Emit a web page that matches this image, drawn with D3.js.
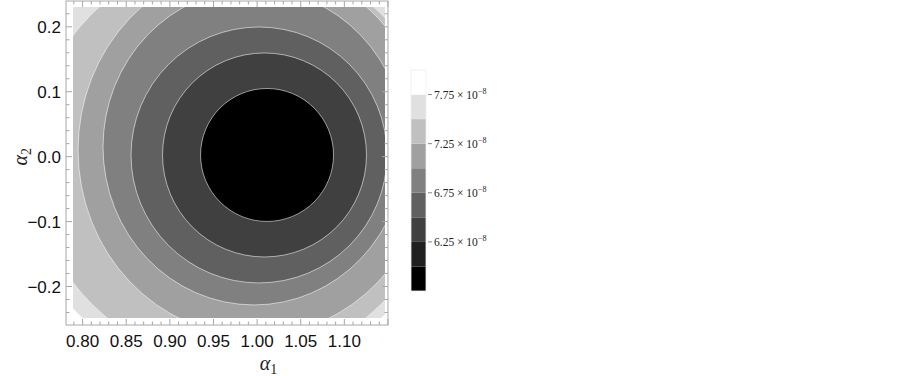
<!DOCTYPE html>
<html><head><meta charset="utf-8">
<script src="https://cdn.jsdelivr.net/npm/d3@7"></script>
<style>body{margin:0;background:#fff}</style>
</head><body>
<script>
// ---- data ----
const levels    = [6.25, 6.5, 6.75, 7.0, 7.25, 7.5, 7.75];        // ×10^-8 contour levels
const centerA1  = [1.0114, 1.0085, 1.0022, 0.9965, 0.9965, 0.9764, 0.9712]; // α1 centre of each contour
const centerA2  = [0.0026, 0.0026, 0.0026, 0.0149, 0.0103, -0.0036, -0.0021]; // α2 centre
const radiusA1  = [0.0762, 0.1169, 0.1467, 0.1731, 0.2017, 0.2350, 0.2510]; // half-width in α1
const radiusA2  = [0.1024, 0.1571, 0.1971, 0.2433, 0.2865, 0.3157, 0.3373]; // half-height in α2
const bandColors = ["#000000","#404040","#606060","#808080","#a0a0a0","#c0c0c0","#e0e0e0","#ffffff"];
const legendLevels = [5.75, 6.0, 6.25, 6.5, 6.75, 7.0, 7.25, 7.5, 7.75, 8.0];
const legendColors = ["#000000","#202020","#404040","#606060","#808080","#a0a0a0","#c0c0c0","#e0e0e0","#ffffff"];
const legendLabels = [7.75, 7.25, 6.75, 6.25];
const xTicks = [0.80, 0.85, 0.90, 0.95, 1.00, 1.05, 1.10];
const yTicks = [-0.2, -0.1, 0.0, 0.1, 0.2];
const xDomain = [0.789, 1.1466];
const yDomain = [-0.2485, 0.2305];
const xFrame = [0.781, 1.150];
const yFrame = [-0.2593, 0.2397];

// ---- drawing ----
const W = 903, H = 376;
const svg = d3.select("body").append("svg").attr("width", W).attr("height", H)
  .style("font-family", "'Liberation Sans', Arial, sans-serif");
svg.append("rect").attr("width", W).attr("height", H).attr("fill", "#fff");

const x = d3.scaleLinear().domain(xDomain).range([73, 385]);
const y = d3.scaleLinear().domain(yDomain).range([318, 7]);

svg.append("clipPath").attr("id", "clip").append("rect")
  .attr("x", x(xDomain[0])).attr("y", y(yDomain[1]))
  .attr("width", x(xDomain[1]) - x(xDomain[0])).attr("height", y(yDomain[0]) - y(yDomain[1]));

const g = svg.append("g").attr("clip-path", "url(#clip)");
g.append("rect").attr("x", x(xDomain[0])).attr("y", y(yDomain[1]))
  .attr("width", x(xDomain[1]) - x(xDomain[0])).attr("height", y(yDomain[0]) - y(yDomain[1]))
  .attr("fill", bandColors[7]);

for (let k = levels.length - 1; k >= 0; k--) {
  const cx = x(centerA1[k]), cy = y(centerA2[k]);
  const rx = x(centerA1[k] + radiusA1[k]) - cx, ry = cy - y(centerA2[k] + radiusA2[k]);
  g.append("ellipse").attr("cx", cx).attr("cy", cy).attr("rx", rx).attr("ry", ry)
    .attr("fill", bandColors[k]).attr("stroke", "rgba(255,255,255,0.55)").attr("stroke-width", 1);
}

// frame
const fx0 = x(xFrame[0]), fx1 = x(xFrame[1]), fy0 = y(yFrame[1]), fy1 = y(yFrame[0]);
svg.append("rect").attr("x", fx0).attr("y", fy0).attr("width", fx1 - fx0).attr("height", fy1 - fy0)
  .attr("fill", "none").attr("stroke", "#a8a8a8").attr("stroke-width", 1);

const tickColor = "#a8a8a8";
const xMinor = d3.range(79, 116).map(v => v / 100);
const yMinor = d3.range(-12, 12).map(v => v / 50);
function isMajor(v, step) { return Math.abs(v / step - Math.round(v / step)) < 1e-6; }
xMinor.forEach(v => {
  const L = isMajor(v, 0.05) ? 6 : 3.5;
  svg.append("line").attr("x1", x(v)).attr("x2", x(v)).attr("y1", fy1).attr("y2", fy1 - L).attr("stroke", tickColor);
  svg.append("line").attr("x1", x(v)).attr("x2", x(v)).attr("y1", fy0).attr("y2", fy0 + L).attr("stroke", tickColor);
});
yMinor.forEach(v => {
  if (y(v) < fy0 || y(v) > fy1) return;
  const L = isMajor(v, 0.1) ? 6 : 3.5;
  svg.append("line").attr("y1", y(v)).attr("y2", y(v)).attr("x1", fx0).attr("x2", fx0 + L).attr("stroke", tickColor);
  svg.append("line").attr("y1", y(v)).attr("y2", y(v)).attr("x1", fx1).attr("x2", fx1 - L).attr("stroke", tickColor);
});

// tick labels
svg.selectAll(".xl").data(xTicks).enter().append("text")
  .attr("x", d => x(d)).attr("y", 347).attr("text-anchor", "middle")
  .attr("font-size", 17).attr("fill", "#111").text(d => d.toFixed(2));
svg.selectAll(".yl").data(yTicks).enter().append("text")
  .attr("x", 61).attr("y", d => y(d) + 6).attr("text-anchor", "end")
  .attr("font-size", 17).attr("fill", "#111").text(d => (d < 0 ? "\u2212" : "") + Math.abs(d).toFixed(1));

// axis titles
const xt = svg.append("text").attr("x", x(1.013)).attr("y", 370).attr("text-anchor", "middle")
  .attr("font-family", "'Liberation Serif', 'Times New Roman', serif").attr("font-size", 20).attr("fill", "#222");
xt.append("tspan").attr("font-style", "italic").text("\u03b1");
xt.append("tspan").attr("font-size", 14).attr("dy", 4).text("1");
const yt = svg.append("text").attr("transform", `translate(27,${y(0)}) rotate(-90)`).attr("text-anchor", "middle")
  .attr("font-family", "'Liberation Serif', 'Times New Roman', serif").attr("font-size", 20).attr("fill", "#222");
yt.append("tspan").attr("font-style", "italic").text("\u03b1");
yt.append("tspan").attr("font-size", 14).attr("dy", 4).text("2");

// legend
const ly = d3.scaleLinear().domain([legendLevels[0], legendLevels[legendLevels.length - 1]]).range([291, 70]);
const lg = svg.append("g");
legendColors.forEach((c, i) => {
  lg.append("rect").attr("x", 411).attr("width", 15)
    .attr("y", ly(legendLevels[i + 1])).attr("height", ly(legendLevels[i]) - ly(legendLevels[i + 1]))
    .attr("fill", c);
});
lg.append("rect").attr("x", 411).attr("width", 15).attr("y", ly(8.0)).attr("height", ly(5.75) - ly(8.0))
  .attr("fill", "none").attr("stroke", "#eee").attr("stroke-width", 0.8);
legendLabels.forEach(v => {
  lg.append("line").attr("x1", 428).attr("x2", 432).attr("y1", ly(v)).attr("y2", ly(v)).attr("stroke", "#888");
  const t = lg.append("text").attr("x", 434).attr("y", ly(v) + 4)
    .attr("font-family", "'Liberation Serif', 'Times New Roman', serif").attr("font-size", 11.5).attr("fill", "#222");
  t.append("tspan").text(v.toFixed(2) + " \u00d7 10");
  t.append("tspan").attr("font-size", 8).attr("dy", -5).text("\u22128");
});
</script>
</body></html>
